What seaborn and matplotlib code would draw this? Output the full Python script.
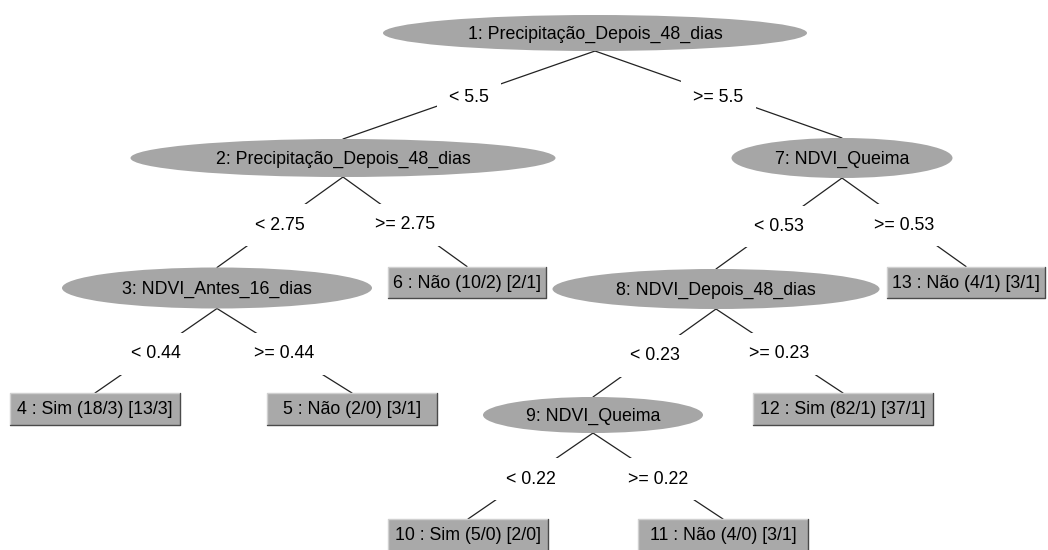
import matplotlib
matplotlib.use('Agg')
import matplotlib.pyplot as plt
from matplotlib.patches import Ellipse, Rectangle
import seaborn as sns

# tree data
node_ids = [1, 2, 3, 4, 5, 6, 7, 8, 9, 10, 11, 12, 13]
node_text = ['1: Precipitação_Depois_48_dias', '2: Precipitação_Depois_48_dias',
             '3: NDVI_Antes_16_dias', '4 : Sim (18/3) [13/3]', '5 : Não (2/0) [3/1]',
             '6 : Não (10/2) [2/1]', '7: NDVI_Queima', '8: NDVI_Depois_48_dias',
             '9: NDVI_Queima', '10 : Sim (5/0) [2/0]', '11 : Não (4/0) [3/1]',
             '12 : Sim (82/1) [37/1]', '13 : Não (4/1) [3/1]']
is_leaf = [False, False, False, True, True, True, False, False, False, True, True, True, True]
parent = [None, 1, 2, 3, 3, 2, 1, 7, 8, 9, 9, 8, 7]
edge_label = [None, '< 5.5', '< 2.75', '< 0.44', '>= 0.44', '>= 2.75', '>= 5.5',
              '< 0.53', '< 0.23', '< 0.22', '>= 0.22', '>= 0.23', '>= 0.53']

# layout (pixels): centre x, centre y, width, height
pos_x = [595, 343, 217, 95, 352, 467, 842, 716, 593, 468, 723, 843, 966]
pos_y = [33, 158, 288, 409, 409, 282, 158, 289, 415, 535, 535, 409, 282]
width = [424, 425, 310, 170, 170, 158, 221, 327, 220, 160, 170, 180, 158]
height = [36, 38, 41, 32, 32, 31, 40, 40, 36, 32, 32, 32, 31]

sns.set_theme(style='white')
plt.rcParams['font.family'] = ['Liberation Sans', 'DejaVu Sans']

fig = plt.figure(figsize=(10.48, 5.5), dpi=100)
ax = fig.add_axes([0, 0, 1, 1])
ax.set_xlim(0, 1048)
ax.set_ylim(550, 0)
ax.axis('off')

idx = {n: i for i, n in enumerate(node_ids)}
fs = 12.8

# edges with labels
for i, p in enumerate(parent):
    if p is None:
        continue
    j = idx[p]
    x0, y0 = pos_x[j], pos_y[j] + height[j] / 2
    x1, y1 = pos_x[i], pos_y[i] - height[i] / 2
    ax.plot([x0, x1], [y0, y1], color='#222222', lw=0.9, zorder=1)
    ax.text((x0 + x1) / 2, (y0 + y1) / 2 + 3, edge_label[i], ha='center', va='center',
            fontsize=fs, color='black', zorder=2,
            bbox=dict(boxstyle='square,pad=0.7', fc='white', ec='none'))

# nodes
for i in range(len(node_ids)):
    cx, cy, w, h = pos_x[i], pos_y[i], width[i], height[i]
    if is_leaf[i]:
        ax.add_patch(Rectangle((cx - w / 2, cy - h / 2), w, h, fc='#a9a9a9', ec='none', zorder=3))
        ax.plot([cx - w / 2, cx - w / 2, cx + w / 2], [cy + h / 2, cy - h / 2, cy - h / 2],
                color='#d0d0d0', lw=1, zorder=4)
        ax.plot([cx - w / 2, cx + w / 2, cx + w / 2], [cy + h / 2, cy + h / 2, cy - h / 2],
                color='#4a4a4a', lw=1, zorder=4)
    else:
        ax.add_patch(Ellipse((cx, cy), w, h, fc='#a6a6a6', ec='none', zorder=3))
    ax.text(cx, cy + 1, node_text[i], ha='center', va='center', fontsize=fs,
            color='black', zorder=5)

fig.savefig('out.png', dpi=100)
